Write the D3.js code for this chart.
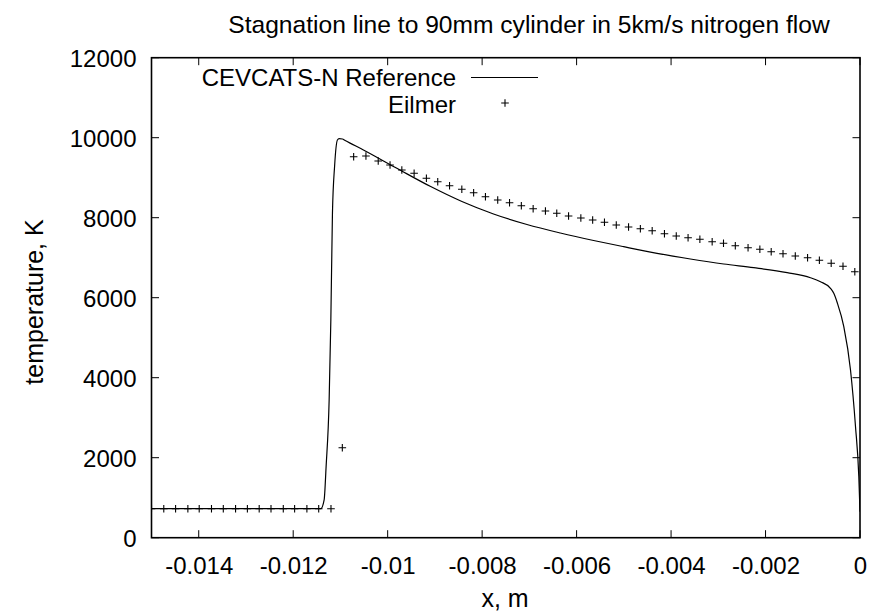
<!DOCTYPE html>
<html><head><meta charset="utf-8">
<script src="https://cdn.jsdelivr.net/npm/d3@7"></script>
<style>body{margin:0;background:#fff}text{font-family:"Liberation Sans",Arial,sans-serif;fill:#000}</style>
</head><body><svg id="c" width="873" height="616"></svg>
<script>
const title = "Stagnation line to 90mm cylinder in 5km/s nitrogen flow";
const xLabel = "x, m";
const yLabel = "temperature, K";
const xTicks = [-0.014,-0.012,-0.01,-0.008,-0.006,-0.004,-0.002,0];
const xTickLabels = ["-0.014","-0.012","-0.01","-0.008","-0.006","-0.004","-0.002","0"];
const yTicks = [0,2000,4000,6000,8000,10000,12000];
const refName = "CEVCATS-N Reference";
const eilName = "Eilmer";
const refX = [-0.015,-0.011415,-0.011345,-0.011303,-0.011239,-0.011203,-0.011169,-0.011123,-0.011064,-0.011028,-0.010958,-0.010900,-0.010513,-0.009805,-0.009100,-0.008428,-0.007759,-0.007051,-0.006345,-0.005640,-0.005004,-0.004297,-0.003591,-0.002886,-0.002250,-0.001542,-0.001049,-0.000837,-0.000625,-0.000555,-0.000483,-0.000343,-0.000201,-0.000095,-0.000025,0];
const refT = [725,725,943,1783,3443,5443,8110,9300,9943,9975,9968,9930,9693,9235,8785,8405,8093,7830,7618,7430,7275,7110,6968,6843,6750,6625,6500,6400,6235,6110,5880,5275,4193,2775,1525,650];
const eilX = [-0.01500,-0.01474,-0.01449,-0.01423,-0.01399,-0.01373,-0.01348,-0.01322,-0.01297,-0.01272,-0.01247,-0.01221,-0.01197,-0.01171,-0.01146,-0.01120,-0.01096,-0.01072,-0.01046,-0.01020,-0.00995,-0.00970,-0.00944,-0.00918,-0.00894,-0.00869,-0.00843,-0.00818,-0.00793,-0.00767,-0.00742,-0.00717,-0.00692,-0.00666,-0.00642,-0.00617,-0.00591,-0.00566,-0.00541,-0.00516,-0.00490,-0.00465,-0.00440,-0.00414,-0.00389,-0.00364,-0.00339,-0.00313,-0.00289,-0.00264,-0.00237,-0.00212,-0.00188,-0.00163,-0.00137,-0.00111,-0.00086,-0.00061,-0.00036,-0.00011];
const eilT = [725,725,725,725,725,725,725,725,725,725,725,725,725,725,725,725,2250,9525,9543,9418,9318,9193,9110,8985,8900,8800,8713,8625,8525,8443,8375,8300,8225,8168,8110,8043,7993,7943,7885,7818,7768,7725,7675,7600,7543,7500,7460,7400,7360,7300,7250,7210,7150,7100,7043,7000,6935,6860,6785,6650];

const L=151.5,R=860,T=57.7,B=537.7;
const FS="24px", FL="25px";
const svg=d3.select("#c");
const x=d3.scaleLinear().domain([-0.015,0]).range([L,R]);
const y=d3.scaleLinear().domain([0,12000]).range([B,T]);
const tl=7.5;
svg.append("defs").append("clipPath").attr("id","cp").append("rect").attr("x",L).attr("y",T).attr("width",R-L).attr("height",B-T);

const ax=d3.axisBottom(x).tickValues(xTicks).tickFormat((d,i)=>xTickLabels[i]).tickSize(0).tickPadding(0);
const gx=svg.append("g").attr("transform",`translate(0,${B})`).call(ax);
gx.select(".domain").remove();
gx.selectAll("text").attr("dy",null).attr("y",36).style("font-size",FS).style("font-family","Liberation Sans, Arial, sans-serif");
const ay=d3.axisLeft(y).tickValues(yTicks).tickFormat(d=>String(d)).tickSize(0).tickPadding(0);
const gy=svg.append("g").attr("transform",`translate(${L},0)`).call(ay);
gy.select(".domain").remove();
gy.selectAll("text").attr("x",-15).attr("dy","0.35em").style("font-size",FS).style("font-family","Liberation Sans, Arial, sans-serif");

const tk=svg.append("g").attr("stroke","#000").attr("stroke-width",1);
xTicks.forEach(v=>{tk.append("line").attr("x1",x(v)).attr("x2",x(v)).attr("y1",B).attr("y2",B-tl);
 tk.append("line").attr("x1",x(v)).attr("x2",x(v)).attr("y1",T).attr("y2",T+tl);});
yTicks.forEach(v=>{tk.append("line").attr("x1",L).attr("x2",L+tl).attr("y1",y(v)).attr("y2",y(v));
 tk.append("line").attr("x1",R).attr("x2",R-tl).attr("y1",y(v)).attr("y2",y(v));});

const line=d3.line().x((d,i)=>x(refX[i])).y((d,i)=>y(refT[i])).curve(d3.curveMonotoneX);
svg.append("path").datum(refX).attr("d",line).attr("fill","none").attr("stroke","#000").attr("stroke-width",1.2).attr("clip-path","url(#cp)");

const ps=3.8;
const pg=svg.append("g").attr("stroke","#000").attr("stroke-width",1.1).attr("clip-path","url(#cp)");
eilX.forEach((v,i)=>{const cx=x(v),cy=y(eilT[i]);
 pg.append("path").attr("d",`M${cx-ps},${cy}H${cx+ps}M${cx},${cy-ps}V${cy+ps}`);});

svg.append("rect").attr("x",L).attr("y",T).attr("width",R-L).attr("height",B-T).attr("fill","none").attr("stroke","#000").attr("stroke-width",1.6);

svg.append("text").attr("x",529).attr("y",33).attr("text-anchor","middle").style("font-size","24.6px").text(title);
svg.append("text").attr("x",505).attr("y",607).attr("text-anchor","middle").style("font-size",FL).text(xLabel);
svg.append("text").attr("transform","translate(43,302) rotate(-90)").attr("text-anchor","middle").style("font-size",FL).text(yLabel);

svg.append("text").attr("x",456).attr("y",85.5).attr("text-anchor","end").style("font-size",FS).text(refName);
svg.append("line").attr("x1",471).attr("x2",538).attr("y1",77.5).attr("y2",77.5).attr("stroke","#000").attr("stroke-width",1.2);
svg.append("text").attr("x",456).attr("y",113).attr("text-anchor","end").style("font-size",FS).text(eilName);
svg.append("path").attr("d",`M${505-ps},103H${505+ps}M505,${103-ps}V${103+ps}`).attr("stroke","#000").attr("stroke-width",1.1);
</script></body></html>
